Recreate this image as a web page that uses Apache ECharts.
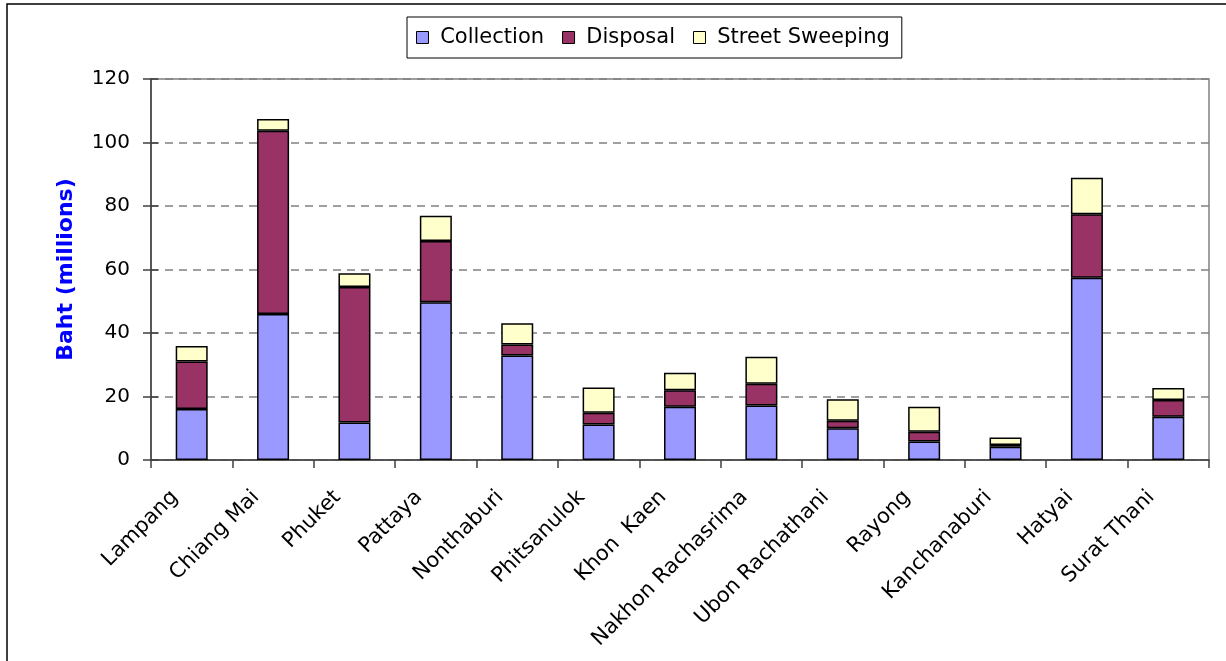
<!DOCTYPE html>
<html>
<head>
<meta charset="utf-8">
<script src="https://cdn.jsdelivr.net/npm/echarts@6/dist/echarts.min.js"></script>
<style>
  html, body { margin: 0; padding: 0; background: #fff; }
  #chart { width: 1226px; height: 661px; }
</style>
</head>
<body>
<div id="chart"></div>
<script>
// Municipal solid waste budgets by city (Baht, millions)
const cities = ['Lampang', 'Chiang Mai', 'Phuket', 'Pattaya', 'Nonthaburi', 'Phitsanulok',
  'Khon  Kaen', 'Nakhon Rachasrima', 'Ubon Rachathani', 'Rayong', 'Kanchanaburi', 'Hatyai', 'Surat Thani'];
const collection = [16.1, 46.0, 11.8, 49.7, 32.9, 11.2, 16.8, 17.2, 10.0, 5.8, 4.2, 57.4, 13.6];
const disposal   = [14.9, 57.7, 42.7, 19.3, 3.5, 3.7, 5.2, 6.8, 2.4, 3.1, 0.5, 20.0, 5.3];
const sweeping   = [4.9, 3.7, 4.3, 7.9, 6.7, 7.9, 5.5, 8.5, 6.7, 7.9, 2.4, 11.5, 3.8];
const seriesNames = ['Collection', 'Disposal', 'Street Sweeping'];
const seriesColors = ['#9999FF', '#993366', '#FFFFCC'];
const yTicks = { min: 0, max: 120, interval: 20 };

const FONT = 'DejaVu Sans';
const AXIS_COLOR = '#404040';
const grid = { left: 151, right: 17, top: 79, bottom: 201 };

const chart = echarts.init(document.getElementById('chart'), null, { renderer: 'canvas' });

function barSeries(name, data, color) {
  return {
    name: name,
    type: 'bar',
    stack: 'total',
    barWidth: 32,
    data: data,
    itemStyle: { color: color, borderColor: '#000', borderWidth: 1.5 },
    emphasis: { disabled: true }
  };
}

chart.setOption({
  animation: false,
  backgroundColor: '#fff',
  textStyle: { fontFamily: FONT },
  grid: Object.assign({ show: true, borderColor: '#808080', borderWidth: 1.5, backgroundColor: 'transparent' }, grid),
  legend: {
    data: seriesNames,
    left: 407,
    top: 17,
    padding: [10, 12, 10, 9],
    itemWidth: 12,
    itemHeight: 12,
    itemGap: 18,
    borderColor: '#000',
    borderWidth: 1,
    icon: 'rect',
    itemStyle: { borderColor: '#000', borderWidth: 1 },
    formatter: function (n) { return ' ' + n; },
    textStyle: { fontFamily: FONT, fontSize: 21, color: '#000' }
  },
  xAxis: {
    type: 'category',
    data: cities,
    boundaryGap: true,
    axisLine: { lineStyle: { color: AXIS_COLOR, width: 1.5 } },
    axisTick: { show: true, length: 8, lineStyle: { color: AXIS_COLOR, width: 1.5 } },
    axisLabel: {
      interval: 0,
      rotate: 45,
      margin: 17,
      padding: [0, 24, 0, 0],
      fontFamily: FONT,
      fontSize: 21,
      color: '#000'
    },
    splitLine: { show: false }
  },
  yAxis: [{
    type: 'value',
    min: yTicks.min,
    max: yTicks.max,
    interval: yTicks.interval,
    name: 'Baht (millions)',
    nameLocation: 'middle',
    nameRotate: 90,
    nameGap: 74,
    nameTextStyle: { fontFamily: FONT, fontSize: 22, fontWeight: 'bold', color: '#0000FF' },
    axisLine: { show: true, lineStyle: { color: AXIS_COLOR, width: 1.5 } },
    axisTick: { show: true, length: 8, lineStyle: { color: AXIS_COLOR, width: 1.5 } },
    axisLabel: { margin: 21, fontFamily: FONT, fontSize: 20, color: '#000' },
    splitLine: { show: true, lineStyle: { color: '#808080', width: 1.5, type: [8, 6] } }
  }, {
    // inner half of the crossing tick marks
    type: 'value',
    position: 'left',
    min: yTicks.min,
    max: yTicks.max,
    interval: yTicks.interval,
    axisLine: { show: false },
    axisTick: { show: true, inside: true, length: 7, lineStyle: { color: AXIS_COLOR, width: 1.5 } },
    axisLabel: { show: false },
    splitLine: { show: false }
  }],
  graphic: [{
    type: 'rect',
    silent: true,
    z: -1,
    shape: { x: 7, y: 4, width: 1300, height: 800 },
    style: { fill: 'transparent', stroke: '#000', lineWidth: 1.5 }
  }],
  series: [
    barSeries(seriesNames[0], collection, seriesColors[0]),
    barSeries(seriesNames[1], disposal, seriesColors[1]),
    barSeries(seriesNames[2], sweeping, seriesColors[2])
  ]
});
</script>
</body>
</html>
